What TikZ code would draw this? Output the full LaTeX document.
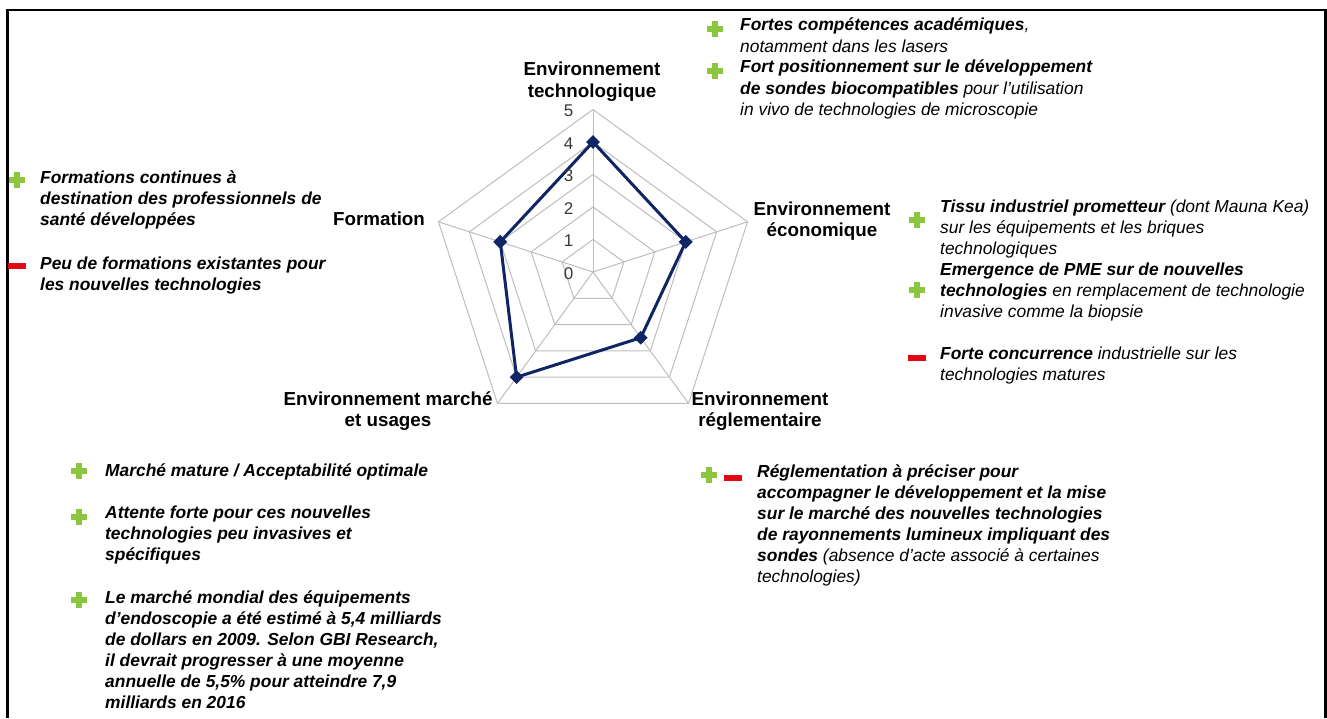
\documentclass[tikz,border=0pt]{standalone}
\usepackage{fontspec}
\setmainfont{Liberation Sans}
\usetikzlibrary{shapes.geometric}
\definecolor{gridgray}{HTML}{BEBEBE}
\definecolor{navy}{HTML}{0F2565}
\definecolor{plusgreen}{HTML}{8CC63F}
\definecolor{minusred}{HTML}{E30613}
\definecolor{scalegray}{HTML}{3A3A3A}
\tikzset{
  plussign/.pic={
    \fill[plusgreen] (-8,-3) rectangle (8,3);
    \fill[plusgreen] (-3,-8) rectangle (3,8);
  },
  minussign/.pic={
    \fill[minusred] (-9,-3) rectangle (9,3);
  }
}
\begin{document}
% text nodes are anchored on the baseline of their last line
\begin{tikzpicture}[x=1bp,y=-1bp,
  body/.style={anchor=base west, inner sep=0pt, align=left,
    font=\fontsize{17.4bp}{21.1bp}\selectfont\itshape},
  axislabel/.style={anchor=base, inner sep=0pt, align=center,
    font=\fontsize{18.8bp}{21.8bp}\selectfont\bfseries},
  scalelabel/.style={anchor=east, inner sep=0pt, text=scalegray,
    font=\fontsize{17bp}{20bp}\selectfont},
  gridline/.style={draw=gridgray, line width=1bp},
  series/.style={draw=navy, line width=3bp, line join=round},
  marker/.style={diamond, fill=navy, inner sep=0pt, minimum size=14bp},
  frame/.style={draw=black, line width=2.4bp}]
\useasboundingbox (0,0) rectangle (1327,718);
\fill[white] (0,0) rectangle (1327,718);

% outer frame, open at the bottom
\draw[frame] (7.5,718) -- (7.5,10) -- (1325.5,10) -- (1325.5,718);

% radar chart: five axes, levels 0 to 5
\begin{scope}[shift={(593,272)}]
  \coordinate (c) at (0,0);
  \foreach \k in {1,...,5}
    \draw[gridline] (-90:{\k*32.5}) -- (-18:{\k*32.5}) -- (54:{\k*32.5})
      -- (126:{\k*32.5}) -- (198:{\k*32.5}) -- cycle;
  \foreach \a/\n in {-90/t,-18/e,54/r,126/m,198/f} {
    \coordinate (ax\n) at (\a:162.5);
    \draw[gridline] (c) -- (ax\n);
  }
  % scores: 4, 3, 2.5, 4, 3
  \coordinate (dt) at (-90:130);
  \coordinate (de) at (-18:97.5);
  \coordinate (dr) at (54:81.25);
  \coordinate (dm) at (126:130);
  \coordinate (df) at (198:97.5);
  \draw[series] (dt) -- (de) -- (dr) -- (dm) -- (df) -- cycle;
  \foreach \n in {t,e,r,m,f}
    \node[marker] (pt\n) at (d\n) {};
\end{scope}

% level numbers along the vertical axis
\foreach \k in {0,...,5}
  \node[scalelabel] (lvl\k) at (573.5,{273.5-32.5*\k}) {\k};

% axis titles
\node[axislabel] (labtech) at (592,97.3) {Environnement\\technologique};
\node[axislabel] (labeco) at (822,236.8) {Environnement\\économique};
\node[axislabel] (labregl) at (760,426.8) {Environnement\\réglementaire};
\node[axislabel] (labmarche) at (388,426.8) {Environnement marché\\et usages};
\node[axislabel] (labform) at (379,225) {Formation};

% technological environment
\pic at (715,29.5) {plussign};
\node[body] (tech1) at (740,52.1) {\textbf{Fortes compétences académiques},\\notamment dans les lasers};
\pic at (715,71) {plussign};
\node[body] (tech2) at (740,115.2) {\textbf{Fort positionnement sur le développement}\\\textbf{de sondes biocompatibles} pour l'utilisation\\in vivo de technologies de microscopie};

% training
\pic at (17,180) {plussign};
\node[body] (form1) at (40,225.2) {\textbf{Formations continues à}\\\textbf{destination des professionnels de}\\\textbf{santé développées}};
\pic at (17,266) {minussign};
\node[body] (form2) at (40,290.1) {\textbf{Peu de formations existantes pour}\\\textbf{les nouvelles technologies}};

% economic environment
\pic at (917,220) {plussign};
\node[body] (eco1) at (940,254.2) {\textbf{Tissu industriel prometteur} (dont Mauna Kea)\\sur les équipements et les briques\\technologiques};
\pic at (917,290) {plussign};
\node[body] (eco2) at (940,317.2) {\textbf{Emergence de PME sur de nouvelles}\\\textbf{technologies} en remplacement de technologie\\invasive comme la biopsie};
\pic at (917,358) {minussign};
\node[body] (eco3) at (940,380.1) {\textbf{Forte concurrence} industrielle sur les\\technologies matures};

% market and uses
\pic at (79,471) {plussign};
\node[body] (mkt1) at (105,476.5) {\textbf{Marché mature / Acceptabilité optimale}};
\pic at (79,517) {plussign};
\node[body] (mkt2) at (105,560.2) {\textbf{Attente forte pour ces nouvelles}\\\textbf{technologies peu invasives et}\\\textbf{spécifiques}};
\pic at (79,600) {plussign};
\node[body] (mkt3) at (105,708.5) {\textbf{Le marché mondial des équipements}\\\textbf{d'endoscopie a été estimé à 5,4 milliards}\\\textbf{de dollars en 2009. Selon GBI Research,}\\\textbf{il devrait progresser à une moyenne}\\\textbf{annuelle de 5,5\% pour atteindre 7,9}\\\textbf{milliards en 2016}};

% regulatory environment
\pic at (709,475) {plussign};
\pic at (733,477.5) {minussign};
\node[body] (regl1) at (757,582.5) {\textbf{Réglementation à préciser pour}\\\textbf{accompagner le développement et la mise}\\\textbf{sur le marché des nouvelles technologies}\\\textbf{de rayonnements lumineux impliquant des}\\\textbf{sondes} (absence d'acte associé à certaines\\technologies)};
\end{tikzpicture}
\end{document}
